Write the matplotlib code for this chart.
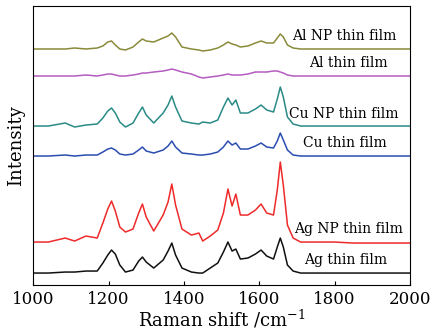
import matplotlib
matplotlib.use("Agg")
import matplotlib.pyplot as plt

plt.rcParams["font.family"] = ["DejaVu Serif"]
plt.rcParams["mathtext.fontset"] = "dejavuserif"

# Raman shift grid (cm^-1)
shift = [1000, 1040, 1085, 1110, 1140, 1170, 1185, 1198, 1208, 1218, 1230, 1245,
         1265, 1280, 1290, 1300, 1320, 1345, 1358, 1368, 1378, 1395, 1420, 1440,
         1450, 1470, 1490, 1505, 1517, 1528, 1538, 1550, 1570, 1590, 1605, 1620,
         1638, 1648, 1656, 1664, 1675, 1690, 1710, 1750, 1800, 1850, 1900, 1950, 2000]

# stacked intensities (offset already included)
ag_film = [12, 12, 13, 13, 14, 14, 22, 30, 35, 31, 20, 13,
           15, 24, 28, 23, 17, 25, 34, 42, 30, 17, 13, 12,
           12, 17, 22, 33, 43, 34, 36, 26, 27, 31, 35, 29,
           26, 38, 47, 38, 20, 14, 12, 12, 12, 12, 12, 12, 12]
ag_np = [43, 43, 47, 44, 49, 47, 62, 76, 84, 74, 58, 53,
         56, 72, 81, 68, 54, 70, 83, 101, 80, 56, 50, 52,
         44, 49, 55, 72, 96, 79, 91, 70, 70, 75, 81, 72,
         70, 95, 123, 100, 60, 47, 43, 43, 43, 42, 42, 42, 42]
cu_film = [129, 129, 130, 129, 130, 130, 133, 136, 137, 135, 131, 130,
           131, 135, 138, 134, 132, 135, 139, 144, 138, 132, 131, 130,
           130, 131, 133, 138, 144, 140, 142, 136, 136, 139, 142, 138,
           137, 144, 152, 145, 135, 130, 129, 129, 129, 129, 129, 129, 129]
cu_np = [159, 159, 162, 158, 160, 161, 167, 174, 177, 172, 163, 158,
         162, 172, 178, 170, 162, 172, 180, 189, 178, 164, 162, 161,
         163, 162, 165, 178, 187, 180, 185, 172, 172, 176, 180, 175,
         173, 186, 198, 188, 168, 161, 159, 159, 159, 159, 159, 159, 159]
al_film = [209, 209, 209, 209, 210, 209, 210, 211, 211, 210, 209, 209,
           210, 211, 212, 212, 213, 214, 215, 216, 215, 213, 211, 208,
           207, 208, 209, 210, 211, 210, 210, 210, 211, 213, 213, 213,
           214, 214, 213, 212, 210, 209, 209, 209, 209, 209, 209, 209, 209]
al_np = [236, 236, 236, 237, 236, 237, 239, 243, 244, 240, 236, 235,
         238, 243, 246, 244, 243, 247, 249, 252, 248, 238, 236, 235,
         234, 235, 237, 240, 243, 241, 240, 238, 239, 242, 244, 242,
         242, 247, 251, 248, 240, 237, 236, 236, 236, 236, 236, 236, 236]

series = [
    (ag_film, "#111111", "Ag thin film", 1939, 25),
    (ag_np, "#ee2a2a", "Ag NP thin film", 1981, 56),
    (cu_film, "#2b4db0", "Cu thin film", 1939, 142),
    (cu_np, "#2a8a86", "Cu NP thin film", 1971, 171),
    (al_film, "#b45cc0", "Al thin film", 1942, 222),
    (al_np, "#8a8a3a", "Al NP thin film", 1965, 249),
]

fig = plt.figure(figsize=(4.31, 3.33), dpi=100)
ax = fig.add_axes([0.077, 0.144, 0.874, 0.838])

for y, c, label, tx, ty in series:
    ax.plot(shift, y, color=c, linewidth=1.1)
    ax.text(tx, ty, label, ha="right", va="center", fontsize=10)

ax.set_xlim(1000, 2000)
ax.set_ylim(0, 279)
ax.set_xticks([1000, 1200, 1400, 1600, 1800, 2000])
ax.set_yticks([])
ax.tick_params(axis="x", direction="in", length=3, labelsize=12, pad=4)
ax.set_xlabel("Raman shift /cm$^{-1}$", fontsize=13, labelpad=0)
ax.set_ylabel("Intensity", fontsize=13, labelpad=6)
for s in ax.spines.values():
    s.set_linewidth(0.8)

fig.savefig("out.png", dpi=100)
